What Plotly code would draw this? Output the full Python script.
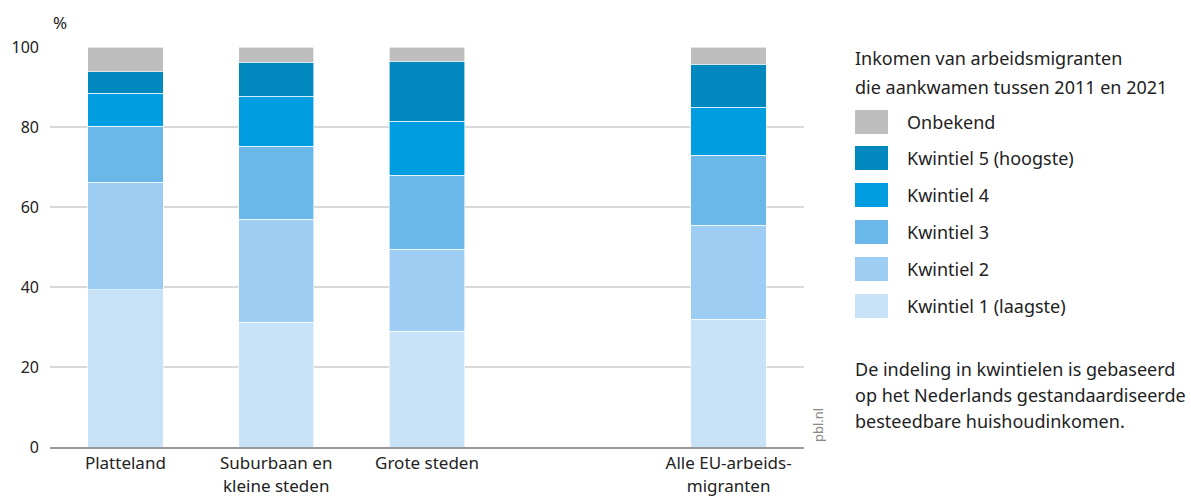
import plotly.graph_objects as go

# ---- data ----
categories = ["Platteland", "Suburbaan en<br>kleine steden", "Grote steden", " ", "Alle EU-arbeids-<br>migranten"]
bar_categories = ["Platteland", "Suburbaan en<br>kleine steden", "Grote steden", "Alle EU-arbeids-<br>migranten"]

series_names = ["Kwintiel 1 (laagste)", "Kwintiel 2", "Kwintiel 3", "Kwintiel 4", "Kwintiel 5 (hoogste)", "Onbekend"]
kwintiel1 = [39.3, 31.2, 29.0, 32.0]
kwintiel2 = [26.9, 25.7, 20.4, 23.5]
kwintiel3 = [14.0, 18.3, 18.6, 17.5]
kwintiel4 = [8.3, 12.5, 13.5, 12.0]
kwintiel5 = [5.3, 8.5, 14.9, 10.7]
onbekend = [6.2, 3.8, 3.6, 4.3]
series_values = [kwintiel1, kwintiel2, kwintiel3, kwintiel4, kwintiel5, onbekend]
colors = ["#c8e3f8", "#9dcdf2", "#6ab8ea", "#009de0", "#0088bf", "#bebebe"]

y_ticks = [0, 20, 40, 60, 80, 100]

legend_title_lines = ["Inkomen van arbeidsmigranten", "die aankwamen tussen 2011 en 2021"]
note_lines = ["De indeling in kwintielen is gebaseerd",
              "op het Nederlands gestandaardiseerde",
              "besteedbare huishoudinkomen."]

FONT = "Noto Sans"
W, H = 1191, 500
ML, MR, MT, MB = 50, 387, 47, 53
PW, PH = W - ML - MR, H - MT - MB

def px(x):
    return (x - ML) / PW

def py(y):
    return (H - MB - y) / PH

fig = go.Figure()
for name, vals, col in zip(series_names, series_values, colors):
    fig.add_trace(go.Bar(
        x=bar_categories, y=vals, name=name,
        marker=dict(color=col, line=dict(width=0.6, color="white")),
        width=0.5, showlegend=False,
    ))

fig.update_layout(
    width=W, height=H, barmode="stack",
    margin=dict(l=ML, r=MR, t=MT, b=MB, autoexpand=False),
    plot_bgcolor="white", paper_bgcolor="white",
    font=dict(family=FONT, size=16, color="#222"),
    xaxis=dict(type="category", categoryorder="array", categoryarray=categories,
               range=[-0.5, 4.5], showgrid=False, ticks="", tickfont=dict(size=17),
               showline=True, linecolor="#999999", linewidth=2, automargin=False),
    yaxis=dict(range=[0, 100], tickvals=y_ticks, showgrid=True, gridcolor="#d9d9d9",
               gridwidth=1.5, zeroline=False, ticks="", ticklabelstandoff=10,
               tickfont=dict(size=16), automargin=False),
)

annotations = []
shapes = []
annotations.append(dict(text="%", xref="paper", yref="paper", x=px(51), y=py(22),
                        xanchor="left", yanchor="middle", showarrow=False,
                        font=dict(size=17)))
for i, line in enumerate(legend_title_lines):
    annotations.append(dict(text=line, xref="paper", yref="paper", x=px(853), y=py(58 + 29 * i),
                            xanchor="left", yanchor="middle", showarrow=False,
                            font=dict(size=18)))
legend_centers = [122, 158, 195, 232, 269, 306]
for i, (name, col) in enumerate(zip(series_names[::-1], colors[::-1])):
    yc = legend_centers[i]
    shapes.append(dict(type="rect", xref="paper", yref="paper",
                       x0=px(855), x1=px(888), y0=py(yc + 12), y1=py(yc - 12),
                       fillcolor=col, line=dict(width=0)))
    annotations.append(dict(text=name, xref="paper", yref="paper", x=px(905), y=py(yc),
                            xanchor="left", yanchor="middle", showarrow=False,
                            font=dict(size=18)))
for i, line in enumerate(note_lines):
    annotations.append(dict(text=line, xref="paper", yref="paper", x=px(853), y=py(369 + 26 * i),
                            xanchor="left", yanchor="middle", showarrow=False,
                            font=dict(size=18)))
annotations.append(dict(text="pbl.nl", xref="paper", yref="paper", x=px(818), y=py(425),
                        xanchor="center", yanchor="middle", showarrow=False, textangle=-90,
                        font=dict(size=13, color="#888888")))
fig.update_layout(annotations=annotations, shapes=shapes)

fig.write_html("out.html", config={"displayModeBar": False},
               post_script="document.body.style.margin='0';document.body.style.overflow='hidden';")
